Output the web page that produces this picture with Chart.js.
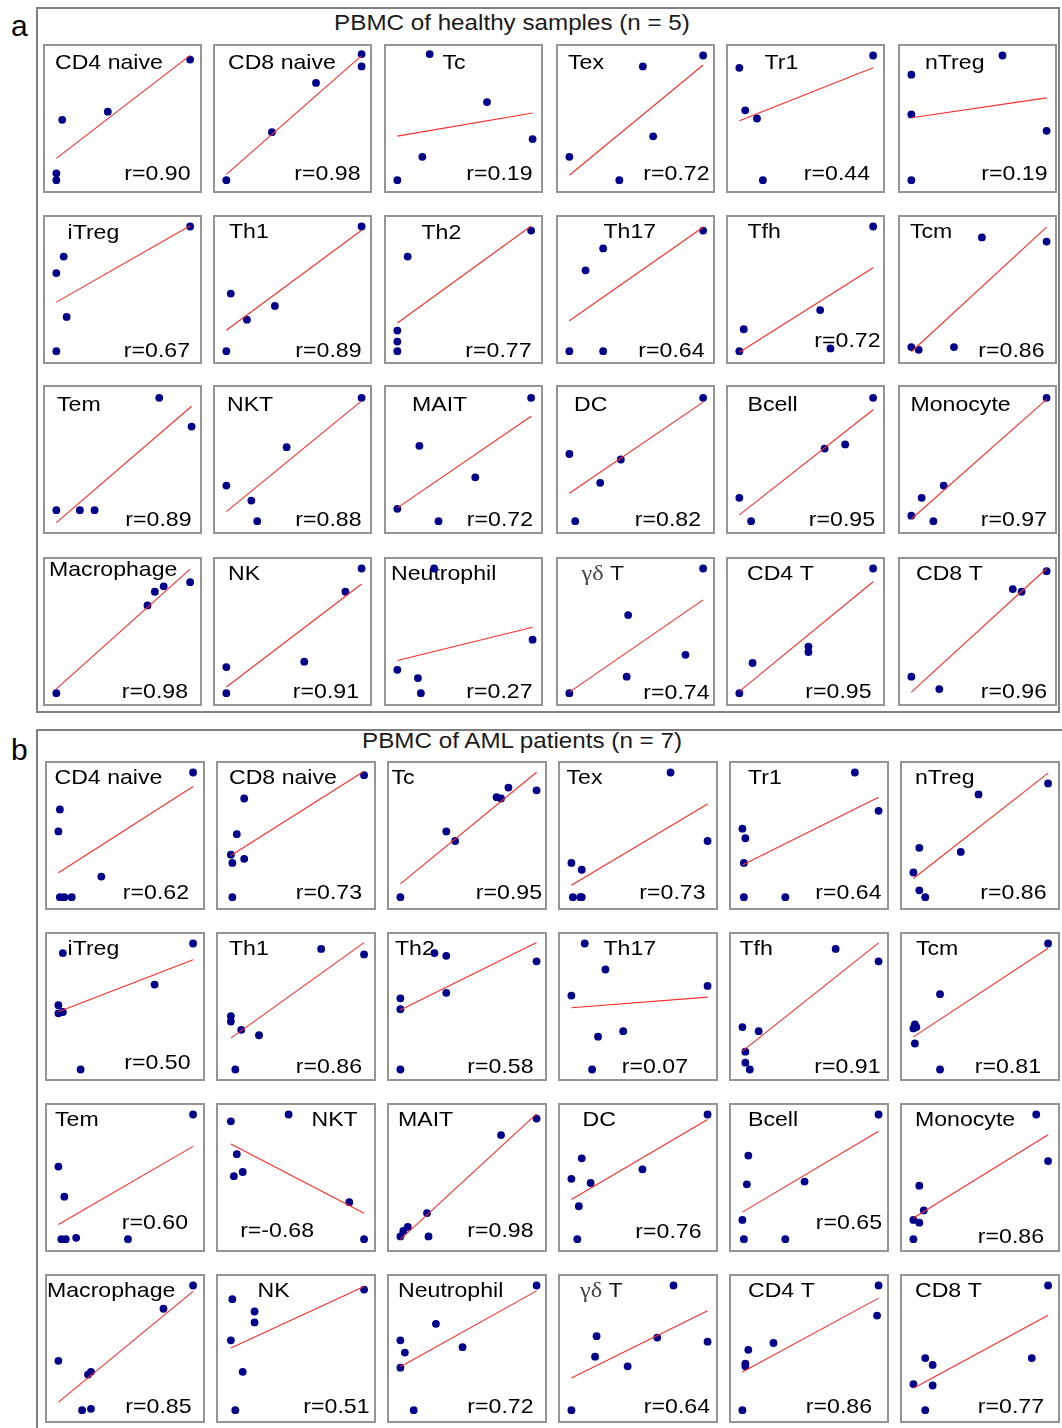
<!DOCTYPE html>
<html>
<head>
<meta charset="utf-8">
<title>PBMC cell-type correlations</title>
<script src="https://cdn.jsdelivr.net/npm/chart.js@4.4.1/dist/chart.umd.min.js"></script>
<style>
  body { margin: 0; background: #fff; }
  #page { position: relative; width: 1062px; height: 1428px; overflow: hidden;
          font-family: "Liberation Sans", Arial, sans-serif; background: #fff; }
  .panel { position: absolute; border: 2px solid #808080; box-sizing: border-box; }
  .cell { position: absolute; border: 2px solid #959595; box-sizing: border-box; background: #fff; }
  .cell canvas { display: block; }
  .letter { position: absolute; font-size: 30px; line-height: 30px; color: #000; }
  .title { position: absolute; width: 600px; text-align: center; font-size: 22px; line-height: 22px;
           color: #1a1a1a; transform: scaleX(1.1); white-space: nowrap; }
</style>
</head>
<body>
<div id="page"></div>
<script>
// Cell types, in panel order (6 per row)
const cellTypes = ["CD4 naive", "CD8 naive", "Tc", "Tex", "Tr1", "nTreg",
                   "iTreg", "Th1", "Th2", "Th17", "Tfh", "Tcm",
                   "Tem", "NKT", "MAIT", "DC", "Bcell", "Monocyte",
                   "Macrophage", "NK", "Neutrophil", "γδ T", "CD4 T", "CD8 T"];

// Pearson r reported for each cell type
const healthyR = [0.90, 0.98, 0.19, 0.72, 0.44, 0.19, 0.67, 0.89, 0.77, 0.64, 0.72, 0.86,
                  0.89, 0.88, 0.72, 0.82, 0.95, 0.97, 0.98, 0.91, 0.27, 0.74, 0.95, 0.96];
const amlR = [0.62, 0.73, 0.95, 0.73, 0.64, 0.86, 0.50, 0.86, 0.58, 0.07, 0.91, 0.81,
              0.60, -0.68, 0.98, 0.76, 0.65, 0.86, 0.85, 0.51, 0.72, 0.64, 0.86, 0.77];

// Healthy samples (n = 5): scaled values, x = one method, y = the other
const healthyX = [
  [0.96, 0.09, 0.40, 0.05, 0.05], [0.97, 0.97, 0.66, 0.36, 0.05], [0.27, 0.66, 0.22, 0.05, 0.97],
  [0.96, 0.55, 0.62, 0.05, 0.39], [0.96, 0.05, 0.09, 0.17, 0.21], [0.67, 0.05, 0.05, 0.97, 0.05],
  [0.96, 0.10, 0.05, 0.12, 0.05], [0.97, 0.08, 0.38, 0.19, 0.05], [0.96, 0.12, 0.05, 0.05, 0.05],
  [0.96, 0.28, 0.16, 0.05, 0.28], [0.96, 0.60, 0.08, 0.05, 0.67], [0.53, 0.97, 0.05, 0.10, 0.34],
  [0.75, 0.97, 0.05, 0.21, 0.31], [0.97, 0.46, 0.05, 0.22, 0.26], [0.96, 0.20, 0.58, 0.05, 0.33],
  [0.96, 0.05, 0.40, 0.26, 0.09], [0.96, 0.63, 0.77, 0.05, 0.13], [0.97, 0.27, 0.12, 0.05, 0.20],
  [0.96, 0.78, 0.72, 0.67, 0.05], [0.97, 0.86, 0.58, 0.05, 0.05], [0.30, 0.05, 0.19, 0.21, 0.97],
  [0.96, 0.45, 0.84, 0.44, 0.05], [0.96, 0.52, 0.52, 0.14, 0.05], [0.97, 0.74, 0.80, 0.05, 0.24]
];
const healthyY = [
  [0.93, 0.49, 0.55, 0.10, 0.05], [0.97, 0.88, 0.76, 0.40, 0.05], [0.97, 0.62, 0.22, 0.05, 0.35],
  [0.96, 0.88, 0.37, 0.22, 0.05], [0.96, 0.87, 0.56, 0.50, 0.05], [0.96, 0.82, 0.53, 0.41, 0.05],
  [0.96, 0.74, 0.62, 0.30, 0.05], [0.96, 0.47, 0.38, 0.28, 0.05], [0.93, 0.74, 0.20, 0.12, 0.05],
  [0.93, 0.80, 0.64, 0.05, 0.05], [0.96, 0.35, 0.21, 0.05, 0.07], [0.88, 0.85, 0.08, 0.06, 0.08],
  [0.95, 0.74, 0.13, 0.13, 0.13], [0.95, 0.59, 0.31, 0.20, 0.05], [0.95, 0.60, 0.37, 0.14, 0.05],
  [0.95, 0.54, 0.50, 0.33, 0.05], [0.95, 0.58, 0.61, 0.22, 0.05], [0.95, 0.31, 0.22, 0.09, 0.05],
  [0.86, 0.83, 0.79, 0.69, 0.05], [0.96, 0.79, 0.28, 0.24, 0.05], [0.96, 0.22, 0.16, 0.05, 0.44],
  [0.96, 0.62, 0.33, 0.17, 0.05], [0.96, 0.39, 0.35, 0.27, 0.05], [0.94, 0.81, 0.79, 0.17, 0.08]
];

// AML patients (n = 7)
const amlX = [
  [0.96, 0.06, 0.05, 0.34, 0.06, 0.09, 0.14], [0.96, 0.15, 0.10, 0.06, 0.07, 0.15, 0.07],
  [0.05, 0.36, 0.42, 0.70, 0.73, 0.78, 0.97], [0.72, 0.97, 0.05, 0.12, 0.06, 0.11, 0.12],
  [0.81, 0.97, 0.05, 0.07, 0.06, 0.06, 0.34], [0.96, 0.49, 0.09, 0.37, 0.05, 0.09, 0.13],
  [0.96, 0.08, 0.70, 0.05, 0.05, 0.08, 0.20], [0.67, 0.96, 0.06, 0.06, 0.13, 0.25, 0.09],
  [0.28, 0.36, 0.36, 0.05, 0.05, 0.05, 0.97], [0.14, 0.28, 0.05, 0.97, 0.23, 0.40, 0.19],
  [0.68, 0.97, 0.05, 0.16, 0.07, 0.07, 0.10], [0.96, 0.23, 0.06, 0.05, 0.07, 0.06, 0.23],
  [0.96, 0.05, 0.09, 0.07, 0.10, 0.17, 0.52], [0.45, 0.06, 0.10, 0.08, 0.14, 0.86, 0.96],
  [0.73, 0.23, 0.10, 0.07, 0.05, 0.24, 0.97], [0.97, 0.12, 0.05, 0.18, 0.53, 0.10, 0.09],
  [0.97, 0.09, 0.08, 0.47, 0.05, 0.06, 0.34], [0.88, 0.96, 0.09, 0.12, 0.05, 0.09, 0.05],
  [0.96, 0.76, 0.05, 0.27, 0.25, 0.21, 0.27], [0.96, 0.07, 0.22, 0.22, 0.06, 0.14, 0.09],
  [0.29, 0.05, 0.08, 0.47, 0.05, 0.14, 0.97], [0.74, 0.22, 0.21, 0.63, 0.43, 0.97, 0.05],
  [0.97, 0.96, 0.26, 0.09, 0.07, 0.07, 0.05], [0.96, 0.85, 0.13, 0.18, 0.05, 0.18, 0.13]
];
const amlY = [
  [0.96, 0.69, 0.53, 0.20, 0.05, 0.05, 0.05], [0.94, 0.77, 0.51, 0.36, 0.30, 0.33, 0.05],
  [0.05, 0.53, 0.46, 0.78, 0.77, 0.85, 0.83], [0.96, 0.46, 0.30, 0.25, 0.05, 0.05, 0.05],
  [0.96, 0.68, 0.55, 0.48, 0.30, 0.05, 0.05], [0.88, 0.80, 0.41, 0.38, 0.23, 0.10, 0.05],
  [0.96, 0.89, 0.66, 0.51, 0.45, 0.46, 0.04], [0.92, 0.88, 0.43, 0.39, 0.33, 0.29, 0.04],
  [0.89, 0.87, 0.60, 0.56, 0.48, 0.04, 0.83], [0.96, 0.77, 0.58, 0.65, 0.28, 0.32, 0.04],
  [0.92, 0.83, 0.35, 0.32, 0.17, 0.09, 0.04], [0.96, 0.59, 0.37, 0.34, 0.35, 0.23, 0.04],
  [0.96, 0.58, 0.36, 0.05, 0.05, 0.06, 0.05], [0.96, 0.91, 0.67, 0.51, 0.54, 0.32, 0.05],
  [0.81, 0.24, 0.14, 0.11, 0.07, 0.07, 0.93], [0.96, 0.64, 0.49, 0.46, 0.56, 0.29, 0.05],
  [0.96, 0.66, 0.45, 0.47, 0.19, 0.05, 0.05], [0.96, 0.62, 0.44, 0.26, 0.19, 0.17, 0.05],
  [0.96, 0.79, 0.41, 0.33, 0.31, 0.05, 0.06], [0.93, 0.86, 0.77, 0.69, 0.56, 0.33, 0.05],
  [0.68, 0.56, 0.47, 0.51, 0.36, 0.05, 0.96], [0.96, 0.59, 0.44, 0.58, 0.37, 0.55, 0.05],
  [0.96, 0.74, 0.54, 0.49, 0.39, 0.37, 0.05], [0.96, 0.43, 0.43, 0.38, 0.24, 0.23, 0.05]
];

// Text placement inside each small plot (pixels from the plot edges)
const healthyNameDx = [10, 13, 56.5, 10, 36.5, 25, 22.5, 14, 35.5, 45.5, 19.5, 10,
                       12, 12, 26, 16, 19.5, 10.5, 4, 13, 5, 23.5, 19, 16];
const healthyNameBase = [22.5, 22.5, 22.5, 22.5, 22.5, 22.5, 21.5, 21, 21.5, 20.5, 20.5, 20.5,
                         23.5, 23.5, 23.5, 23.5, 23.5, 23.5, 17, 21, 21, 21, 21, 21];
const healthyRDx = [9.5, 9.5, 8.5, 3.5, 13, 7.5, 10, 8.5, 9.5, 8.5, 2.5, 10.5,
                    8.5, 8.5, 8, 12, 8, 8, 12, 11, 8.5, 3.5, 11.5, 8];
const healthyRBase = [11, 11, 11, 11, 11, 11, 5.5, 5.5, 5.5, 5.5, 15.5, 5.5,
                      6.5, 6.5, 6.5, 6.5, 6.5, 6.5, 6, 6, 6, 5, 6, 6];
const amlNameDx = [7.5, 11, 2.5, 6.5, 17, 13, 20.5, 11, 6, 43.5, 8.5, 14,
                   8, 93.5, 9, 22.5, 17, 13, 0, 39.5, 9, 20, 17, 13];
const amlNameBase = [21, 21, 21, 21, 21, 21, 21, 21, 21, 21, 21, 21,
                     21, 21, 21, 21, 21, 21, 21, 21, 21, 21, 21, 21];
const amlRDx = [14, 12, 3, 10.5, 5.5, 11.5, 12.5, 12, 11.5, 28, 6.5, 17,
                15, 60, 11.5, 14.5, 5, 14, 11.5, 4.5, 11.5, 6, 15, 14];
const amlRBase = [9, 9, 9, 9, 9, 9, 10.5, 6, 6, 6, 6, 6,
                  21.5, 13, 13, 12.5, 21.5, 7.5, 8.5, 8.5, 8.5, 8.5, 8.5, 8.5];

// Least-squares fit, drawn over the observed x range
function fitLine(xs, ys) {
  const n = xs.length;
  const mx = xs.reduce((a, b) => a + b, 0) / n;
  const my = ys.reduce((a, b) => a + b, 0) / n;
  let sxy = 0, sxx = 0;
  for (let i = 0; i < n; i++) { sxy += (xs[i] - mx) * (ys[i] - my); sxx += (xs[i] - mx) ** 2; }
  const b = sxy / sxx, a = my - b * mx;
  const x0 = Math.min(...xs), x1 = Math.max(...xs);
  return [{ x: x0, y: a + b * x0 }, { x: x1, y: a + b * x1 }];
}

const SANS = '"Liberation Sans", Arial, sans-serif';
const SERIF = '"Liberation Serif", "Times New Roman", serif';
const STRETCH = 1.1;

function drawText(ctx, text, x, y, align) {
  ctx.save();
  ctx.translate(x, y);
  ctx.scale(STRETCH, 1);
  ctx.textAlign = align;
  const m = text.match(/^([\u0370-\u03FF]+)(.*)$/);
  if (m) {
    ctx.textAlign = 'left';
    ctx.font = '22px ' + SERIF;
    ctx.fillStyle = '#444';
    ctx.fillText(m[1], 0, 0);
    const wg = ctx.measureText(m[1]).width;
    ctx.font = '21px ' + SANS;
    ctx.fillStyle = '#1a1a1a';
    ctx.fillText(m[2], wg, 0);
  } else {
    ctx.fillText(text, 0, 0);
  }
  ctx.restore();
}

// Cell name (top-left) and r value (bottom-right) inside each plot
const cellLabels = {
  id: 'cellLabels',
  beforeDatasetsDraw(chart, args, o) {
    const ctx = chart.ctx;
    ctx.save();
    ctx.fillStyle = '#000';
    ctx.font = '21px ' + SANS;
    ctx.textBaseline = 'alphabetic';
    drawText(ctx, o.name, o.nameDx, o.nameBase, 'left');
    ctx.fillStyle = '#000';
    ctx.font = '21px ' + SANS;
    drawText(ctx, 'r=' + o.r.toFixed(2), chart.width - o.rDx, chart.height - o.rBase, 'right');
    ctx.restore();
  }
};

const page = document.getElementById('page');
function el(cls, css, text) {
  const d = document.createElement('div');
  d.className = cls;
  Object.assign(d.style, css);
  if (text) d.textContent = text;
  page.appendChild(d);
  return d;
}

// Panel frames, letters and titles
el('panel', { left: '36px', top: '7px', width: '1024px', height: '706px' });
el('panel', { left: '36px', top: '729px', width: '1100px', height: '800px' });
el('letter', { left: '11px', top: '11px' }, 'a');
el('letter', { left: '11px', top: '735px' }, 'b');
el('title', { left: '212px', top: '12px' }, 'PBMC of healthy samples (n = 5)');
el('title', { left: '222px', top: '730px' }, 'PBMC of AML patients (n = 7)');

function buildPanel(xsAll, ysAll, rs, nameDx, nameBase, rDx, rBase, lefts, tops, w, h) {
  cellTypes.forEach((name, i) => {
    const row = Math.floor(i / 6), col = i % 6;
    const box = el('cell', { left: lefts[col] + 'px', top: tops[row] + 'px', width: w + 'px', height: h + 'px' });
    const cv = document.createElement('canvas');
    cv.width = w - 4; cv.height = h - 4;
    box.appendChild(cv);
    const xs = xsAll[i], ys = ysAll[i];
    new Chart(cv, {
      type: 'scatter',
      data: {
        datasets: [
          { type: 'line', data: fitLine(xs, ys), borderColor: '#ff2b2b', borderWidth: 1.1,
            pointRadius: 0, tension: 0, order: 0 },
          { data: xs.map((x, k) => ({ x, y: ys[k] })), backgroundColor: '#00008b',
            borderWidth: 0, pointRadius: 3.9, order: 1 }
        ]
      },
      options: {
        responsive: false, animation: false, devicePixelRatio: 1, events: [],
        layout: { padding: 0 },
        plugins: {
          legend: { display: false }, tooltip: { enabled: false },
          cellLabels: { name, r: rs[i], nameDx: nameDx[i], nameBase: nameBase[i], rDx: rDx[i], rBase: rBase[i] }
        },
        scales: {
          x: { type: 'linear', min: 0, max: 1, display: false },
          y: { type: 'linear', min: 0, max: 1, display: false }
        }
      },
      plugins: [cellLabels]
    });
  });
}

buildPanel(healthyX, healthyY, healthyR, healthyNameDx, healthyNameBase, healthyRDx, healthyRBase,
           [43, 213, 384, 556, 726, 898], [44, 215, 385, 557], 159, 149);
buildPanel(amlX, amlY, amlR, amlNameDx, amlNameBase, amlRDx, amlRBase,
           [45, 216, 387, 558, 729, 900], [761, 932, 1103, 1274], 160, 149);
</script>
</body>
</html>
